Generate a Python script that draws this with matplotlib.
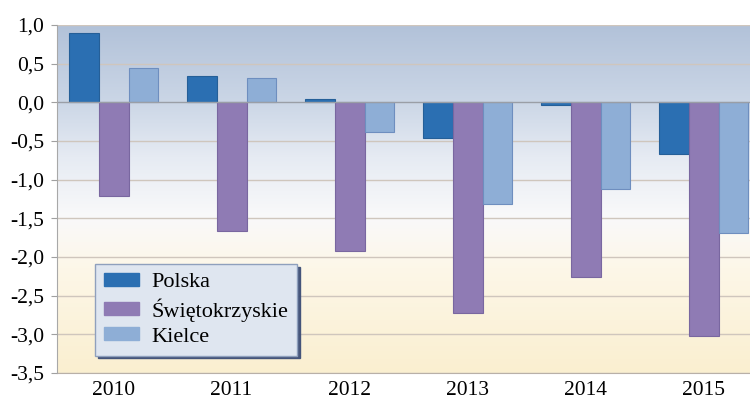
import numpy as np
import matplotlib
matplotlib.use("Agg")
import matplotlib.pyplot as plt
from matplotlib.colors import LinearSegmentedColormap
from matplotlib.patches import Patch

years = ["2010", "2011", "2012", "2013", "2014", "2015"]
polska = [0.90, 0.34, 0.04, -0.46, -0.04, -0.67]
swietokrzyskie = [-1.21, -1.66, -1.92, -2.73, -2.26, -3.02]
kielce = [0.45, 0.32, -0.39, -1.32, -1.12, -1.69]
series_names = ["Polska", "Świętokrzyskie", "Kielce"]
yticks = [1.0, 0.5, 0.0, -0.5, -1.0, -1.5, -2.0, -2.5, -3.0, -3.5]

plt.rcParams['font.family'] = ['Liberation Serif', 'DejaVu Serif']

W, H = 750, 403
fig = plt.figure(figsize=(W / 100, H / 100), dpi=100)
fig.patch.set_facecolor('white')
left, right, top, bottom = 57, 750, 25, 373
ax = fig.add_axes([left / W, (H - bottom) / H, (right - left) / W, (bottom - top) / H])

ymin, ymax = -3.5, 1.0
xmin = -0.479
xmax = xmin + (right - left) / 118.0
ax.set_xlim(xmin, xmax)
ax.set_ylim(ymin, ymax)

# background gradient
cmap = LinearSegmentedColormap.from_list("bg", [
    (0.0, "#faefd0"),
    (0.30, "#fdf7e8"),
    (0.45, "#f9f9fa"),
    (0.62, "#e6ebf3"),
    (0.78, "#cbd6e6"),
    (1.0, "#b2c2d9"),
])
grad = np.linspace(0, 1, 256).reshape(-1, 1)
ax.imshow(grad, aspect='auto', cmap=cmap, origin='lower',
          extent=[xmin, xmax, ymin, ymax], zorder=0)

for yv in yticks:
    if yv == 0.0:
        continue
    ax.axhline(yv, color='#cfc6bd', lw=1.0, zorder=1)
ax.axhline(0.0, color='#9a9ea6', lw=1.0, zorder=3)

x = np.arange(len(years))
w = 0.254
ax.bar(x - w, polska, w, color='#2b6fb2', edgecolor='#255f98', lw=0.8, zorder=2, label=series_names[0])
ax.bar(x, swietokrzyskie, w, color='#8f7bb4', edgecolor='#7967a0', lw=0.8, zorder=2, label=series_names[1])
ax.bar(x + w, kielce, w, color='#8eaed6', edgecolor='#6e8ebf', lw=0.8, zorder=2, label=series_names[2])

ax.set_yticks(yticks)
ax.set_yticklabels([f"{v:.1f}".replace('.', ',') for v in yticks], fontsize=15.5)
ax.set_xticks(x)
ax.set_xticklabels(years, fontsize=15.5)
ax.tick_params(axis='y', length=4, color='#a0a0a0', pad=5)
ax.tick_params(axis='x', length=0, pad=6)
for s in ['top', 'right']:
    ax.spines[s].set_visible(False)
ax.spines['left'].set_color('#a8a8a8')
ax.spines['bottom'].set_color('#b8b0a8')
ax.spines['left'].set_zorder(4)

handles = [Patch(facecolor='#2b6fb2', edgecolor='#2b6fb2'),
           Patch(facecolor='#8f7bb4', edgecolor='#8f7bb4'),
           Patch(facecolor='#8eaed6', edgecolor='#8eaed6')]
leg = ax.legend(handles, series_names, loc='upper left',
                bbox_to_anchor=((95 - left) / (right - left), (bottom - 264) / (bottom - top)),
                borderaxespad=0, fontsize=16, frameon=True, fancybox=False,
                handlelength=1.6, handleheight=0.55, labelspacing=0.25,
                handletextpad=0.55, borderpad=0.4,
                shadow={'color': '#3f5078', 'alpha': 0.95})
leg.get_frame().set_facecolor('#dfe6f0')
leg.get_frame().set_edgecolor('#8fa0bd')
leg.get_frame().set_linewidth(1.0)
leg.set_zorder(5)

fig.savefig("out.png", dpi=100)
